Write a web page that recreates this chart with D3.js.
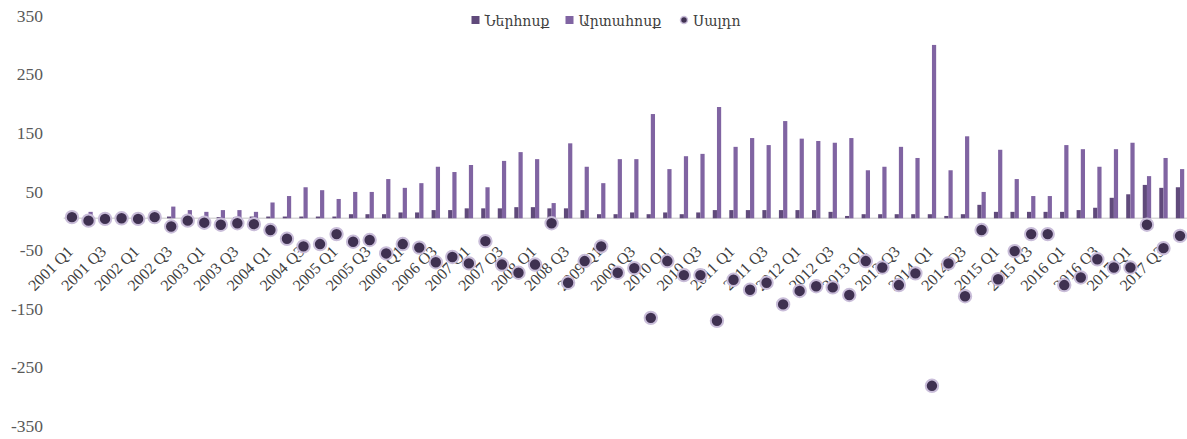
<!DOCTYPE html>
<html>
<head>
<meta charset="utf-8">
<script src="https://cdn.jsdelivr.net/npm/d3@7"></script>
<style>
  body { margin: 0; background: #fff; }
</style>
</head>
<body>
<script>
const years = [2001, 2002, 2003, 2004, 2005, 2006, 2007, 2008, 2009, 2010, 2011, 2012, 2013, 2014, 2015, 2016, 2017];
const quarters = ["Q1", "Q2", "Q3", "Q4"];
const categories = years.flatMap(y => quarters.map(q => `${y} ${q}`));

// Ներհոսք
const inflow = [
  3, 5, 1, 1,
  1, 3, 3, 2,
  2, 2, 2, 3,
  3, 3, 3, 3,
  3, 7, 7, 7,
  10, 10, 14, 14,
  17, 17, 17, 19,
  19, 17, 17, 14,
  7, 7, 10, 7,
  10, 7, 10, 14,
  14, 14, 14, 14,
  14, 14, 11, 4,
  7, 7, 7, 7,
  7, 4, 7, 23,
  11, 11, 11, 11,
  11, 14, 18, 35,
  41, 57, 52, 53
];

// Արտահոսք
const outflow = [
  1, 11, 2, 1,
  2, 1, 20, 14,
  11, 14, 14, 11,
  27, 38, 53, 48,
  33, 45, 45, 67,
  52, 60, 88, 79,
  91, 53, 98, 113,
  101, 26, 128, 88,
  60, 101, 101, 178,
  84, 106, 110, 190,
  122, 137, 125, 166,
  136, 132, 129, 137,
  82, 88, 122, 103,
  296, 82, 140, 45,
  117, 67, 38, 38,
  125, 118, 88, 118,
  129, 72, 103, 84
];

// Սալդո
const balance = [
  2, -4, -1, 0,
  -1, 2, -14, -4,
  -7.5, -11, -8.5, -10,
  -20, -35, -48, -44,
  -27, -40, -37, -60,
  -44, -50, -75, -66,
  -77, -39, -79, -93,
  -79, -8.5, -110, -73,
  -48, -93, -85, -170,
  -73, -97, -97, -175,
  -105, -122, -110, -147,
  -124, -116, -118, -131,
  -73, -84, -114, -94,
  -286, -77, -133, -20,
  -104, -56, -27, -27,
  -114, -101, -70, -84,
  -84, -11, -51, -30
];

const yTicks = [350, 250, 150, 50, -50, -150, -250, -350];
const seriesNames = ["Ներհոսք", "Արտահոսք", "Սալդո"];

const width = 1187, height = 439;
const colInflow = "#604a7b", colOutflow = "#8064a2";
const dotFill = "#3f3151", dotRing = "#c9bdd9";
const serif = '"Liberation Serif", "Times New Roman", serif';
const armenian = '"DejaVu Serif", serif';

const svg = d3.select("body").append("svg")
  .attr("width", width).attr("height", height);

const x = d3.scaleBand()
  .domain(categories)
  .range([63.7, 1188.3])
  .padding(0);

const y = d3.scaleLinear()
  .domain([-350, 350])
  .range([423.3, 13.3]);

const barW = 4.2;

// y labels, no axis line
svg.append("g").selectAll("text")
  .data(yTicks)
  .enter().append("text")
  .attr("x", 43)
  .attr("y", d => y(d) + 2.5)
  .attr("dy", "0.35em")
  .attr("text-anchor", "end")
  .attr("font-size", 17.5)
  .attr("fill", "#595959")
  .style("font-family", serif)
  .text(d => d);

// zero line
svg.append("line")
  .attr("x1", 63.7).attr("x2", 1188)
  .attr("y1", y(0)).attr("y2", y(0))
  .attr("stroke", "#d9d9d9")
  .attr("stroke-width", 1.5);

const rows = categories.map((c, i) => ({cat: c, inn: inflow[i], out: outflow[i], bal: balance[i]}));

// bars
svg.append("g").selectAll("rect")
  .data(rows)
  .enter().append("rect")
  .attr("x", d => x(d.cat) + x.bandwidth() / 2 - barW)
  .attr("y", d => y(d.inn))
  .attr("width", barW)
  .attr("height", d => y(0) - y(d.inn))
  .attr("fill", colInflow);

svg.append("g").selectAll("rect")
  .data(rows)
  .enter().append("rect")
  .attr("x", d => x(d.cat) + x.bandwidth() / 2)
  .attr("y", d => y(d.out))
  .attr("width", barW)
  .attr("height", d => y(0) - y(d.out))
  .attr("fill", colOutflow);

// x labels every second quarter, next to zero line
svg.append("g").selectAll("text")
  .data(categories.filter((c, i) => i % 2 === 0))
  .enter().append("text")
  .attr("transform", d => `translate(${x(d) + x.bandwidth() / 2 + 2},${252.5}) rotate(-45)`)
  .attr("text-anchor", "end")
  .attr("font-size", 16)
  .attr("fill", "#404040")
  .style("font-family", serif)
  .text(d => d);

// balance dots
svg.append("g").selectAll("circle")
  .data(rows)
  .enter().append("circle")
  .attr("cx", d => x(d.cat) + x.bandwidth() / 2)
  .attr("cy", d => y(d.bal))
  .attr("r", 6.2)
  .attr("fill", dotFill)
  .attr("stroke", dotRing)
  .attr("stroke-width", 2);

// legend
const legend = svg.append("g").attr("class", "legend");
const legendItems = [
  {name: seriesNames[0], x: 471.5, kind: "rect", color: colInflow},
  {name: seriesNames[1], x: 565.5, kind: "rect", color: colOutflow},
  {name: seriesNames[2], x: 680, kind: "dot", color: dotFill}
];
legendItems.forEach(it => {
  if (it.kind === "rect") {
    legend.append("rect")
      .attr("x", it.x).attr("y", 16)
      .attr("width", 8).attr("height", 8)
      .attr("fill", it.color);
  } else {
    legend.append("circle")
      .attr("cx", it.x + 4).attr("cy", 20)
      .attr("r", 3.5)
      .attr("fill", it.color)
      .attr("stroke", dotRing)
      .attr("stroke-width", 1.5);
  }
  legend.append("text")
    .attr("x", it.x + 13).attr("y", 26)
    .attr("font-size", 14)
    .attr("fill", "#404040")
    .style("font-family", armenian)
    .text(it.name);
});
</script>
</body>
</html>
